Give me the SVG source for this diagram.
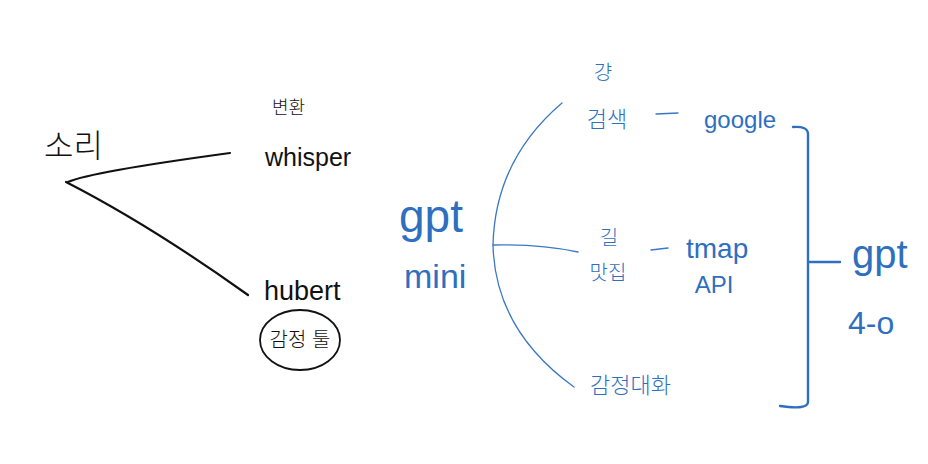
<svg xmlns="http://www.w3.org/2000/svg" width="928" height="464" viewBox="0 0 928 464">
<style>
.k{fill:#111;font-family:"Liberation Sans","Noto Sans CJK KR",sans-serif;font-weight:300}
.b{fill:#2f6fc0;font-family:"Liberation Sans","Noto Sans CJK KR",sans-serif;font-weight:300}
.kl{fill:none;stroke:#111;stroke-width:2.2;stroke-linecap:round}
.bl{fill:none;stroke:#3a78c4;stroke-width:1.3;stroke-linecap:round}
.bb{fill:none;stroke:#2f6fc0;stroke-width:2.4;stroke-linecap:round;stroke-linejoin:round}
</style>
<rect width="928" height="464" fill="#fff"/>
<g id="connectors">
<path class="kl" d="M68 182 Q90 172 230 153"/>
<path class="kl" d="M66 182 Q150 225 248 295"/>
<path class="bl" d="M562 103 Q495 160 493 245 Q495 330 574 387"/>
<path class="bl" d="M493 245 Q540 244 578 252"/>
<path class="bl" d="M656 114 L678 113"/>
<path class="bl" d="M651 250 L668 248"/>
<path class="bb" d="M793 127 Q808 126 808 134 L808 402 Q808 410 780 406"/>
<path class="bb" d="M808 262 L840 262"/>
</g>
<g id="sori"><text class="k" x="44" y="157" font-size="32">소리</text></g>
<g id="whisper">
<text class="k" x="272" y="114" font-size="18">변환</text>
<text class="k" x="265" y="166" font-size="25">whisper</text>
</g>
<g id="hubert">
<text class="k" x="264" y="300" font-size="27">hubert</text>
<ellipse cx="300" cy="340" rx="40" ry="30" fill="none" stroke="#111" stroke-width="1.8"/>
<text class="k" x="300" y="347" font-size="20" text-anchor="middle">감정 툴</text>
</g>
<g id="gptmini">
<text class="b" x="399" y="232" font-size="46">gpt</text>
<text class="b" x="404" y="288" font-size="34">mini</text>
</g>
<g id="search">
<text class="b" x="603" y="80" font-size="20" text-anchor="middle">걍</text>
<text class="b" x="607" y="127" font-size="22" text-anchor="middle">검색</text>
<text class="b" x="704" y="128" font-size="24">google</text>
</g>
<g id="tmap">
<text class="b" x="609" y="245" font-size="20" text-anchor="middle">길</text>
<text class="b" x="608" y="280" font-size="20" text-anchor="middle">맛집</text>
<text class="b" x="686" y="258" font-size="28">tmap</text>
<text class="b" x="714" y="293" font-size="24" text-anchor="middle">API</text>
</g>
<g id="chat"><text class="b" x="590" y="393" font-size="22">감정대화</text></g>
<g id="gpt4o">
<text class="b" x="852" y="268" font-size="40">gpt</text>
<text class="b" x="848" y="334" font-size="32">4-o</text>
</g>
</svg>
